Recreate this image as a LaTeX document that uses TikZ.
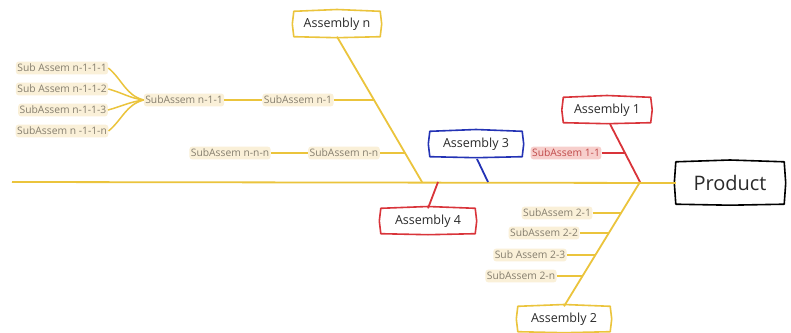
\documentclass[tikz,border=0pt]{standalone}
\usepackage{fontspec}
\setmainfont{Open Sans}
\usetikzlibrary{calc}
\definecolor{ylw}{HTML}{EBC43C}
\definecolor{rd}{HTML}{D9343A}
\definecolor{bl}{HTML}{2433B5}
\definecolor{lblbg}{HTML}{FAF0D8}
\definecolor{pinkbg}{HTML}{F7CFCC}
\definecolor{txt}{HTML}{2A2A2A}
\definecolor{stxt}{HTML}{857E6E}
\tikzset{
  asmbox/.style={text=txt, font=\fontsize{12.5}{14}\selectfont, inner sep=0pt, minimum height=25pt, minimum width=#1},
  prodbox/.style={text=txt, font=\fontsize{20}{22}\selectfont, inner sep=0pt, minimum height=42pt, minimum width=108pt},
  sublbl/.style={text=stxt, fill=lblbg, rounded corners=3pt, inner xsep=1.5pt, inner ysep=2.5pt, font=\fontsize{10.3}{12}\selectfont},
  pinklbl/.style={sublbl, fill=pinkbg, text=rd!70!stxt},
  yline/.style={draw=ylw, line width=1.8pt},
  ybranch/.style={draw=ylw, line width=1.5pt},
  rline/.style={draw=rd, line width=1.8pt},
  bline/.style={draw=bl, line width=1.8pt},
}
\newcommand{\skbox}[2]{%
  \draw[#2, line width=1.6pt, line join=round] (#1.north west) -- ([yshift=1.8pt]#1.north) -- (#1.north east) -- ([xshift=1.5pt]#1.east) -- (#1.south east) -- ([yshift=-1pt]#1.south) -- (#1.south west) -- ([xshift=-1.5pt]#1.west) -- cycle;}
\begin{document}
\begin{tikzpicture}[x=1pt,y=-1pt]
\fill[white] (0,0) rectangle (791,332);
\useasboundingbox (0,0) rectangle (791,332);

% main boxes
\node[prodbox] (product) at (730,183) {Product};
\node[asmbox=86pt] (asmn) at (337,24) {Assembly n};
\node[asmbox=87pt] (asm1) at (607,110) {Assembly 1};
\node[asmbox=92pt] (asm3) at (476,144) {Assembly 3};
\node[asmbox=94pt] (asm4) at (428,221) {Assembly 4};
\node[asmbox=92pt] (asm2) at (564,319) {Assembly 2};
\skbox{product}{black}
\skbox{asmn}{ylw}
\skbox{asm1}{rd}
\skbox{asm3}{bl}
\skbox{asm4}{rd}
\skbox{asm2}{ylw}

% sub labels
\node[sublbl] (sn1) at (298,100) {SubAssem n-1};
\node[sublbl] (sn11) at (184,100) {SubAssem n-1-1};
\node[sublbl] (sn111) at (62,68) {Sub Assem n-1-1-1};
\node[sublbl] (sn112) at (62,89) {Sub Assem n-1-1-2};
\node[sublbl] (sn113) at (63,110) {SubAssem n-1-1-3};
\node[sublbl] (sn11n) at (62,131) {SubAssem n -1-1-n};
\node[sublbl] (snn) at (344,153) {SubAssem n-n};
\node[sublbl] (snnn) at (230,153) {SubAssem n-n-n};
\node[pinklbl] (s11) at (566,153) {SubAssem 1-1};
\node[sublbl] (s21) at (557,213) {SubAssem 2-1};
\node[sublbl] (s22) at (544,233) {SubAssem 2-2};
\node[sublbl] (s23) at (530,255) {Sub Assem 2-3};
\node[sublbl] (s2n) at (521,276) {SubAssem 2-n};

% joints
\coordinate (sl) at (12,182);
\coordinate (jn) at (422,182);
\coordinate (j1) at (640,182);
\coordinate (j3) at (488,182);
\coordinate (j4) at (438,182);
\coordinate (a1s) at (610,124);
\coordinate (a3s) at (477,159);

% spine
\draw[yline] (sl) -- (product.west);

% Assembly n
\draw[yline] (asmn.south) -- (jn);
\coordinate (bn1) at ($(asmn.south)!0.436!(jn)$);
\coordinate (bnn) at ($(asmn.south)!0.80!(jn)$);
\draw[ybranch] (sn1.east) -- (sn1.east -| bn1);
\draw[ybranch] (snn.east) -- (snn.east -| bnn);
\draw[ybranch] (sn11.east) -- (sn1.west);
\draw[ybranch] (snnn.east) -- (snn.west);
\draw[ybranch] (sn11.west) to[out=165,in=-40] (sn111.east);
\draw[ybranch] (sn11.west) to[out=172,in=-15] (sn112.east);
\draw[ybranch] (sn11.west) to[out=188,in=15] (sn113.east);
\draw[ybranch] (sn11.west) to[out=195,in=40] (sn11n.east);

% Assembly 1
\draw[rline] (a1s) -- (j1);
\coordinate (b11) at ($(a1s)!0.5!(j1)$);
\draw[rline, line width=1.4pt] (s11.east) -- (s11.east -| b11);

% Assembly 2
\draw[yline] (j1) -- (asm2.north);
\coordinate (b21) at ($(j1)!0.249!(asm2.north)$);
\coordinate (b22) at ($(j1)!0.41!(asm2.north)$);
\coordinate (b23) at ($(j1)!0.586!(asm2.north)$);
\coordinate (b2n) at ($(j1)!0.755!(asm2.north)$);
\draw[ybranch] (s21.east) -- (s21.east -| b21);
\draw[ybranch] (s22.east) -- (s22.east -| b22);
\draw[ybranch] (s23.east) -- (s23.east -| b23);
\draw[ybranch] (s2n.east) -- (s2n.east -| b2n);

% Assembly 3
\draw[bline] (a3s) -- (j3);
% Assembly 4
\draw[rline] (asm4.north) -- (j4);
\end{tikzpicture}
\end{document}
